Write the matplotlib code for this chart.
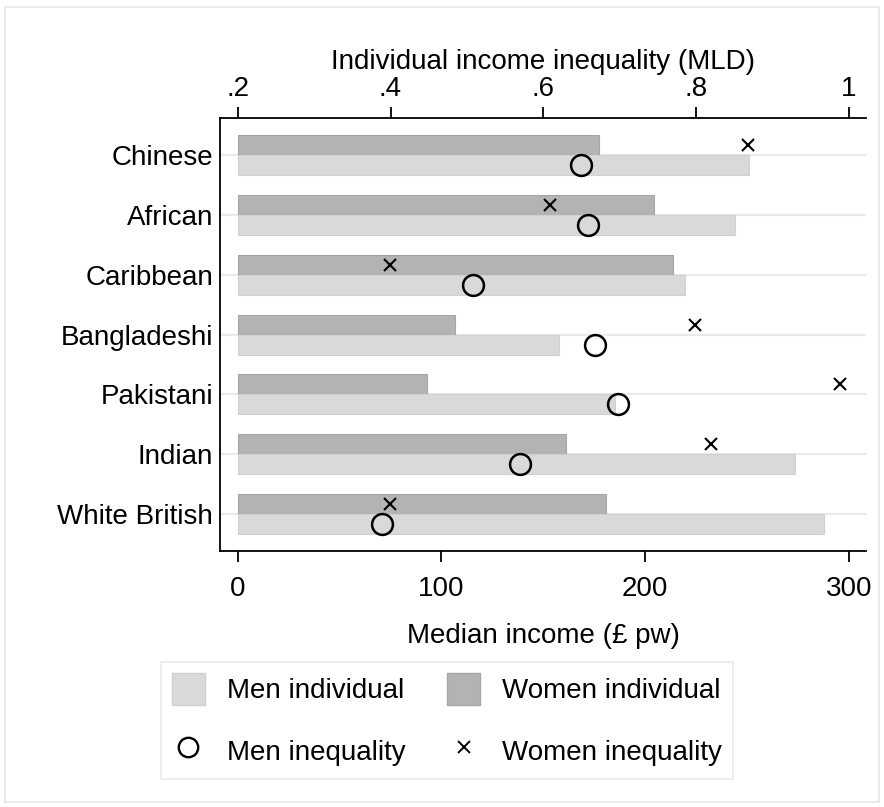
import matplotlib
matplotlib.use("Agg")
import matplotlib.pyplot as plt
from matplotlib.lines import Line2D
from matplotlib.patches import Patch, Rectangle
import numpy as np

plt.rcParams['font.family'] = ['Liberation Sans', 'DejaVu Sans']

groups = ["Chinese", "African", "Caribbean", "Bangladeshi", "Pakistani", "Indian", "White British"]
women_income = [177.5, 204.5, 213.7, 106.7, 92.9, 161.0, 180.7]
men_income = [250.8, 244.2, 219.5, 157.7, 185.0, 273.6, 287.6]
women_mld = [0.868, 0.609, 0.399, 0.799, 0.988, 0.819, 0.399]
men_mld = [0.649, 0.658, 0.508, 0.668, 0.698, 0.569, 0.389]
income_ticks = [0, 100, 200, 300]
mld_ticks = [0.2, 0.4, 0.6, 0.8, 1.0]
mld_ticklabels = [".2", ".4", ".6", ".8", "1"]

FS = 20
W, H = 884, 807
fig = plt.figure(figsize=(W / 100, H / 100), dpi=100)
fig.patches.append(Rectangle((5 / W, 5 / H), 874 / W, 795 / H, transform=fig.transFigure,
                             fill=False, edgecolor="#e6e6e6", lw=1.2))

left, right, top, bottom = 220, 866, 117.5, 551
ax = fig.add_axes([left / W, 1 - bottom / H, (right - left) / W, (bottom - top) / H])

y = np.arange(len(groups))
bh = 0.334
dark = "#b3b3b3"
light = "#d9d9d9"
ax.barh(y - bh / 2, women_income, height=bh, color=dark, edgecolor="#a6a6a6", lw=0.8, zorder=2)
ax.barh(y + bh / 2, men_income, height=bh, color=light, edgecolor="#d0d0d0", lw=0.8, zorder=2)
for yy in y:
    ax.axhline(yy, color="#eaeaea", lw=1.6, zorder=1)

xmin, xmax = -8.7, 308.4
ax.set_xlim(xmin, xmax)
ax.set_ylim(6.618, -0.627)
ax.set_yticks(y)
ax.set_yticklabels(groups, fontsize=FS)
ax.tick_params(axis='y', length=0, pad=5)
ax.set_xticks(income_ticks)
ax.tick_params(axis='x', labelsize=FS, length=8, width=1.3, direction='out', pad=10)
ax.set_xlabel("Median income (£ pw)", fontsize=FS, labelpad=15)
ax.spines['right'].set_visible(False)
ax.spines['top'].set_visible(False)
for s in ['left', 'bottom']:
    ax.spines[s].set_linewidth(1.3)

ax2 = ax.twiny()
scale = 300 / 0.8
ax2.set_xlim(0.2 + xmin / scale, 0.2 + xmax / scale)
ax2.set_xticks(mld_ticks)
ax2.set_xticklabels(mld_ticklabels)
ax2.tick_params(axis='x', labelsize=FS, length=8, width=1.3, direction='out', pad=3)
ax2.set_xlabel("Individual income inequality (MLD)", fontsize=FS, labelpad=5)
for s in ['right', 'left', 'bottom']:
    ax2.spines[s].set_visible(False)
ax2.spines['top'].set_linewidth(1.3)
ax2.plot(women_mld, y - bh / 2, linestyle='none', marker='x', color='black', ms=9, mew=1.5, zorder=4)
ax2.plot(men_mld, y + bh / 2, linestyle='none', marker='o', mfc='none', mec='black', ms=15, mew=1.8, zorder=4)

handles = [
    Patch(facecolor=light, edgecolor="#d0d0d0"),
    Line2D([], [], linestyle='none', marker='o', mfc='none', mec='black', ms=14, mew=1.7),
    Patch(facecolor=dark, edgecolor="#a6a6a6"),
    Line2D([], [], linestyle='none', marker='x', color='black', ms=8, mew=1.4),
]
labels = ["Men individual", "Men inequality", "Women individual", "Women inequality"]
leg = fig.legend(handles, labels, loc='center', bbox_to_anchor=(447 / W, 1 - 720 / H), ncol=2,
                 fontsize=FS, frameon=True, fancybox=False, edgecolor="#e6e6e6",
                 handlelength=1.19, handleheight=1.44, handletextpad=0.79, columnspacing=1.5,
                 labelspacing=1.05, borderpad=0.4, borderaxespad=0)
leg.get_frame().set_linewidth(1.2)

fig.savefig("out.png", dpi=100)
